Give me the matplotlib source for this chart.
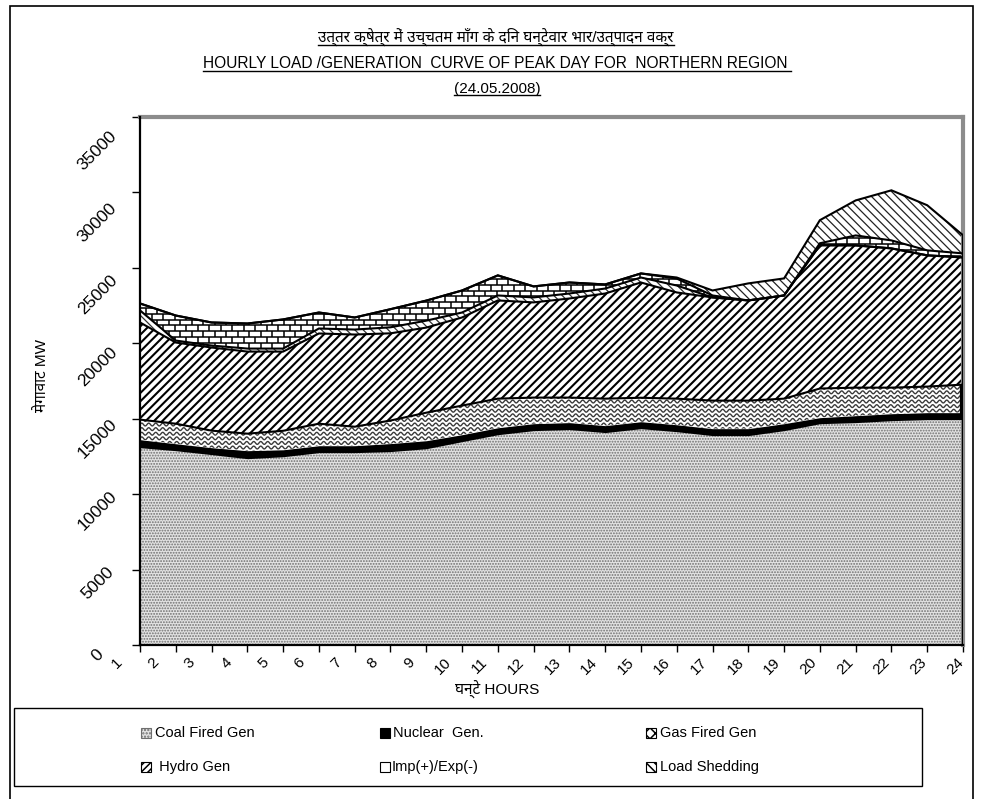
import numpy as np
import matplotlib
matplotlib.use('Agg')
import matplotlib.pyplot as plt
from matplotlib.collections import LineCollection
from matplotlib.patches import Rectangle
from matplotlib.lines import Line2D
from matplotlib.transforms import ScaledTranslation

# ---------------- data (MW) ----------------
hours = list(range(1, 25))
hour_labels = [str(h) for h in hours]
coal = [13080, 12880, 12620, 12350, 12480, 12750, 12750, 12820, 13010, 13480, 13940, 14210,
        14280, 14080, 14340, 14140, 13880, 13880, 14210, 14670, 14740, 14870, 14940, 14940]
nuclear = [530, 460, 460, 530, 460, 460, 460, 530, 530, 460, 460, 460,
           460, 460, 460, 460, 460, 460, 460, 400, 460, 460, 460, 460]
gas = [1330, 1330, 1130, 1130, 1260, 1460, 1260, 1530, 1860, 1930, 1930, 1730,
       1660, 1790, 1590, 1730, 1860, 1860, 1660, 1930, 1860, 1730, 1730, 1860]
hydro = [6440, 5380, 5510, 5440, 5250, 5980, 6110, 5780, 5640, 5840, 6510, 6310,
         6570, 6970, 7640, 7040, 6840, 6640, 6840, 9500, 9430, 9230, 8700, 8430]
other = [800, 130, 130, 200, 200, 330, 330, 400, 460, 330, 330, 330,
         330, 330, 330, 460, 0, 0, 0, 0, 0, 0, 0, 0]
imp_exp = [460, 1660, 1530, 1660, 1930, 1060, 800, 1200, 1330, 1460, 1330, 730,
           730, 270, 270, 460, 130, 0, 0, 130, 660, 530, 330, 270]
load_shed = [0, 0, 0, 0, 0, 0, 0, 0, 0, 0, 0, 0,
             0, 0, 0, 70, 330, 1130, 1130, 1530, 2320, 3320, 2990, 1200]
y_ticks = [0, 5000, 10000, 15000, 20000, 25000, 30000, 35000]

title_hi = "उत्तर क्षेत्र में उच्चतम माँग के दिन घन्टेवार भार/उत्पादन वक्र"
title_en = "HOURLY LOAD /GENERATION  CURVE OF PEAK DAY FOR  NORTHERN REGION "
title_date = "(24.05.2008)"
xlabel = "घन्टे HOURS"
ylabel = "मेगावाट MW"
legend_labels = ["Coal Fired Gen", "Nuclear  Gen.", "Gas Fired Gen",
                 " Hydro Gen", "Imp(+)/Exp(-)", "Load Shedding"]

FAM = ['Liberation Sans', 'Noto Sans Devanagari', 'Lohit Devanagari', 'FreeSans', 'DejaVu Sans']
plt.rcParams['font.family'] = FAM
plt.rcParams['hatch.linewidth'] = 1.1


def hlw(coll, w):
    if hasattr(coll, 'set_hatch_linewidth'):
        try:
            coll.set_hatch_linewidth(w)
        except Exception:
            pass


W, H = 982, 799
fig = plt.figure(figsize=(W / 100, H / 100), dpi=100)
fx = lambda px: px / W
fy = lambda py: 1 - py / H

ax_left, ax_right, ax_top, ax_bot = 140, 963, 117, 645
ax = fig.add_axes([fx(ax_left), fy(ax_bot), (ax_right - ax_left) / W, (ax_bot - ax_top) / H])
ax.set_xlim(1, 24)
ax.set_ylim(0, 35000)

x = np.array(hours, dtype=float)
layers = [np.array(v, dtype=float) for v in (coal, nuclear, gas, hydro, other, imp_exp, load_shed)]
cum = np.cumsum(layers, axis=0)
bottoms = [np.zeros_like(x)] + [cum[i] for i in range(len(layers) - 1)]

# coal
c = ax.fill_between(x, bottoms[0], cum[0], facecolor='#e2e2e2', edgecolor='#707070',
                    hatch='......', linewidth=0, zorder=1)
hlw(c, 0.9)
# nuclear
ax.fill_between(x, bottoms[1], cum[1], facecolor='black', edgecolor='black', linewidth=0, zorder=1)
# gas (wavy texture)
gas_poly = ax.fill_between(x, bottoms[2], cum[2], facecolor='white', linewidth=0, zorder=1)
# hydro
c = ax.fill_between(x, bottoms[3], cum[3], facecolor='white', edgecolor='black',
                    hatch='////', linewidth=0, zorder=1)
hlw(c, 1.5)
# thin band between hydro and imports
c = ax.fill_between(x, bottoms[4], cum[4], facecolor='white', edgecolor='#333333',
                    hatch='\\\\\\\\', linewidth=0, zorder=1)
hlw(c, 0.9)
# imports (brick texture)
imp_poly = ax.fill_between(x, bottoms[5], cum[5], facecolor='white', linewidth=0, zorder=1)
# load shedding
c = ax.fill_between(x, bottoms[6], cum[6], facecolor='white', edgecolor='#222222',
                    hatch='\\\\\\\\', linewidth=0, zorder=1)
hlw(c, 0.9)

# pixel -> data unit sizes for textures
px_x = 23 / (ax_right - ax_left)
px_y = 35000 / (ax_bot - ax_top)

# wavy texture for gas
ylo = (bottoms[2].min()) - 400
yhi = (cum[2].max()) + 400
xs = np.linspace(1, 24, 2400)
waves = []
for yb in np.arange(ylo, yhi, 4.6 * px_y):
    ys = yb + 1.4 * px_y * np.sin(2 * np.pi * (xs - 1) / (7.0 * px_x))
    waves.append(np.column_stack([xs, ys]))
lc = LineCollection(waves, colors='#3a3a3a', linewidths=1.0, zorder=2)
lc.set_clip_path(gas_poly.get_paths()[0], ax.transData)
ax.add_collection(lc)

# brick texture for imports
bw, bh = 11.5 * px_x, 5.8 * px_y
ylo = bottoms[5].min() - bh
yhi = cum[5].max() + bh
segs = []
for i, yb in enumerate(np.arange(ylo, yhi, bh)):
    segs.append([(1, yb), (24, yb)])
    off = (bw / 2) * (i % 2)
    for xv in np.arange(1 - bw + off, 24 + bw, bw):
        segs.append([(xv, yb), (xv, yb + bh)])
lcb = LineCollection(segs, colors='black', linewidths=1.1, zorder=2)
lcb.set_clip_path(imp_poly.get_paths()[0], ax.transData)
ax.add_collection(lcb)

# outlines
for i in (2, 3, 4, 5, 6):
    ax.plot(x, cum[i], color='black', lw=1.5, zorder=3, solid_joinstyle='miter')
ax.plot([24, 24], [0, cum[6][-1]], color='black', lw=1.6, zorder=3)
ax.plot([24, 24], [bottoms[1][-1], cum[2][-1]], color='black', lw=4.5, zorder=3,
        solid_capstyle='butt')

# spines / frame
for s in ('top', 'right'):
    ax.spines[s].set_color('#8c8c8c')
    ax.spines[s].set_linewidth(3)
for s in ('left', 'bottom'):
    ax.spines[s].set_color('black')
    ax.spines[s].set_linewidth(1.6)
    ax.spines[s].set_zorder(5)

ax.set_xticks(hours)
ax.set_xticklabels(hour_labels, rotation=45, rotation_mode='anchor', ha='right', va='center',
                   fontsize=11)
ax.tick_params(axis='x', direction='out', length=5, width=1, pad=6)
for i, lab in enumerate(ax.get_xticklabels()):
    dx = -20 + 18 * i / 23
    lab.set_transform(lab.get_transform() + ScaledTranslation(dx / 100, 0, fig.dpi_scale_trans))

ax.set_yticks(y_ticks)
ax.set_yticklabels([str(v) for v in y_ticks], rotation=45, rotation_mode='anchor',
                   ha='center', va='center', fontsize=12.5)
ax.tick_params(axis='y', direction='out', length=6, width=1, pad=0)
for lab, v in zip(ax.get_yticklabels(), y_ticks):
    dy = 10 + 24 * v / 35000
    lab.set_transform(lab.get_transform() + ScaledTranslation(-34 / 100, -dy / 100, fig.dpi_scale_trans))

# titles
t1 = fig.text(fx(496), fy(37), title_hi, ha='center', va='center', fontsize=11)
t2 = fig.text(fx(497), fy(64), title_en, ha='center', va='center', fontsize=11.2)
t3 = fig.text(fx(497), fy(89), title_date, ha='center', va='center', fontsize=11)
fig.text(fx(497), fy(690), xlabel, ha='center', va='center', fontsize=11)
fig.text(fx(42), fy(375), ylabel, ha='center', va='center', rotation=90, fontsize=11)

# outer border
fig.add_artist(Rectangle((fx(10), fy(805)), fx(973) - fx(10), fy(6) - fy(805),
                         transform=fig.transFigure, fill=False, edgecolor='black', lw=1.2))
# legend box
fig.add_artist(Rectangle((fx(14), fy(786)), fx(922) - fx(14), fy(708) - fy(786),
                         transform=fig.transFigure, fill=False, edgecolor='black', lw=1.0))

icon_style = [
    dict(facecolor='#e2e2e2', edgecolor='#6e6e6e', hatch='.....'),
    dict(facecolor='black', edgecolor='black', hatch=None),
    dict(facecolor='white', edgecolor='black', hatch='xxx'),
    dict(facecolor='white', edgecolor='black', hatch='/////'),
    dict(facecolor='white', edgecolor='black', hatch='+'),
    dict(facecolor='white', edgecolor='black', hatch='\\\\\\\\'),
]
icon_x = [141, 380, 646, 141, 380, 646]
text_x = [155, 393, 660, 155, 392, 660]
row_y = [733, 733, 733, 767, 767, 767]
for st, ix, tx, ry, lab in zip(icon_style, icon_x, text_x, row_y, legend_labels):
    r = Rectangle((fx(ix), fy(ry + 5)), 10 / W, 10 / H, transform=fig.transFigure,
                  linewidth=0.8, **st)
    fig.add_artist(r)
    fig.text(fx(tx), fy(ry), lab, ha='left', va='center', fontsize=10.5)

# underlines for titles
fig.canvas.draw()
renderer = fig.canvas.get_renderer()
for t in (t1, t2, t3):
    bb = t.get_window_extent(renderer)
    yline = (bb.y0 + 1) / H
    fig.add_artist(Line2D([bb.x0 / W, bb.x1 / W], [yline, yline], transform=fig.transFigure,
                          color='black', lw=1.0))

fig.savefig('out.png', dpi=100)
